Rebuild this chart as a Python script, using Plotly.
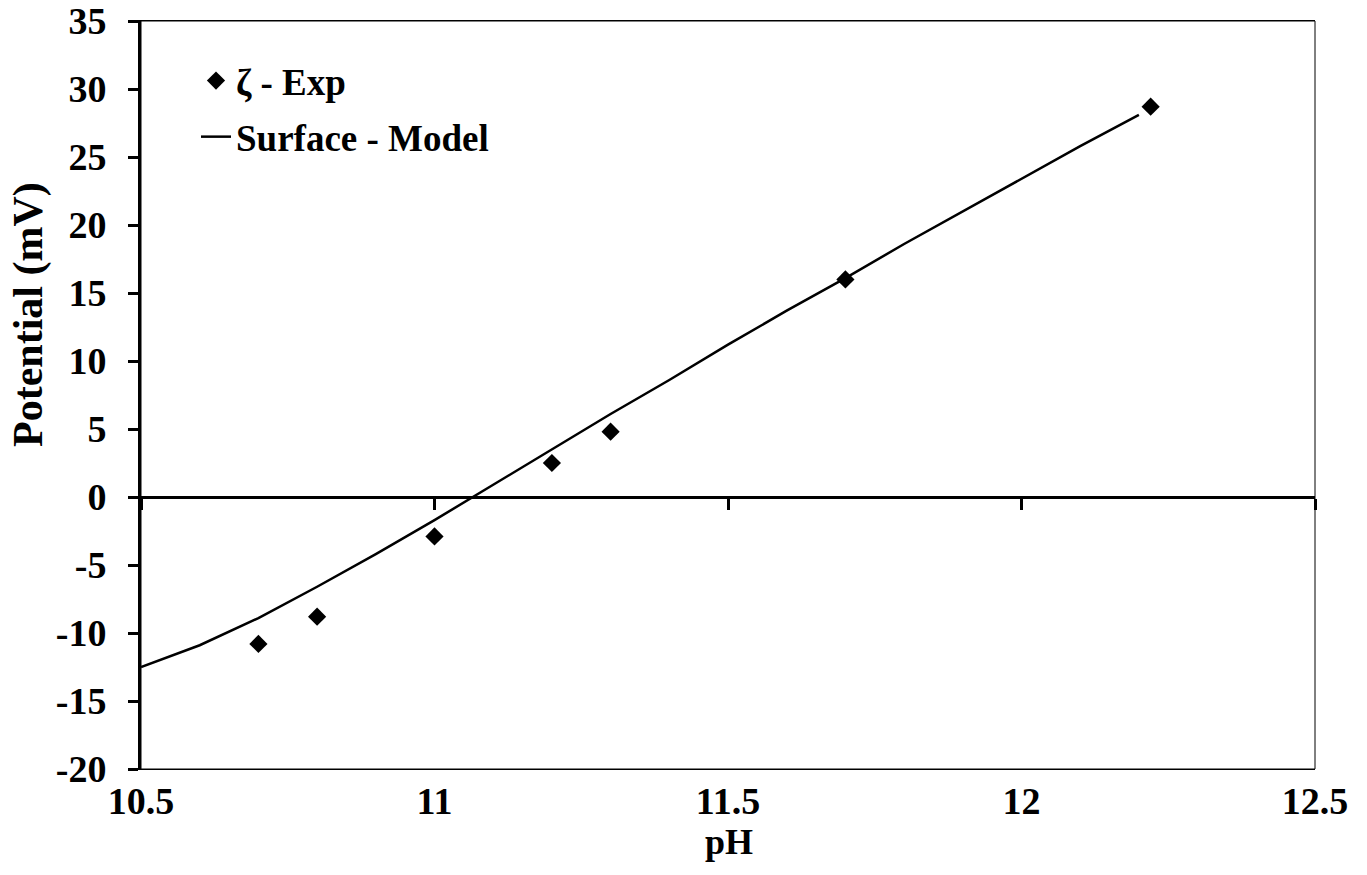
import plotly.graph_objects as go

# Experimental zeta potential
exp_ph = [10.7, 10.8, 11.0, 11.2, 11.3, 11.7, 12.22]
exp_zeta = [-10.8, -8.8, -2.9, 2.5, 4.8, 16.0, 28.7]

# Model surface potential
model_ph = [10.5, 10.6, 10.7, 10.8, 10.9, 11.0, 11.1, 11.2, 11.3, 11.4,
            11.5, 11.6, 11.7, 11.8, 11.9, 12.0, 12.1, 12.2]
model_pot = [-12.5, -10.9, -8.9, -6.6, -4.2, -1.7, 0.9, 3.5, 6.1, 8.6,
             11.2, 13.7, 16.1, 18.6, 21.0, 23.4, 25.8, 28.1]

x_ticks = [10.5, 11, 11.5, 12, 12.5]
x_ticktext = ["10.5", "11", "11.5", "12", "12.5"]
y_ticks = [-20, -15, -10, -5, 0, 5, 10, 15, 20, 25, 30, 35]
y_ticktext = ["-20", "-15", "-10", "-5", "0", "5", "10", "15", "20", "25", "30", "35"]

x_range = [10.5, 12.5]
y_range = [-20, 35]
FONT = "Liberation Serif, Times New Roman, serif"

fig = go.Figure()
fig.add_trace(go.Scatter(
    x=exp_ph, y=exp_zeta, mode="markers", name="ζ - Exp",
    marker=dict(symbol="diamond", size=14, color="black"),
    legendgroup="a",
))
fig.add_trace(go.Scatter(
    x=model_ph, y=model_pot, mode="lines", name="Surface - Model",
    line=dict(color="black", width=2.5), xaxis="x2",
    legendgroup="b",
))

fig.update_layout(
    width=1367, height=875,
    margin=dict(l=141, r=52, t=21, b=106),
    paper_bgcolor="white", plot_bgcolor="white",
    font=dict(family=FONT, color="black"),
    showlegend=True,
    legend=dict(
        x=(196 - 141) / 1174, y=(769 - 50) / 748, xanchor="left", yanchor="top",
        font=dict(family=FONT, size=37, color="black", weight="bold"),
        bgcolor="rgba(0,0,0,0)", tracegroupgap=5, traceorder="grouped",
        itemwidth=30,
    ),
    xaxis=dict(
        range=x_range, tickvals=x_ticks, ticktext=x_ticktext, ticks="",
        showgrid=False, automargin=False,
        zeroline=False, showline=True, mirror=True, linecolor="black",
        linewidth=1,
        tickfont=dict(family=FONT, size=38, color="black", weight="bold"),
        ticklabelstandoff=-2,
    ),
    xaxis2=dict(
        range=x_range, tickvals=x_ticks, overlaying="x", anchor="free",
        position=(0 - y_range[0]) / (y_range[1] - y_range[0]),
        showline=True, linecolor="black", linewidth=2.5, automargin=False,
        ticks="outside", ticklen=11, tickwidth=2.5, tickcolor="black",
        showticklabels=False, showgrid=False, zeroline=False,
    ),
    yaxis=dict(
        range=y_range, tickvals=y_ticks, ticktext=y_ticktext,
        showgrid=False, zeroline=False, automargin=False,
        showline=True, linecolor="black", linewidth=3,
        ticks="outside", ticklen=10, tickwidth=2.5, tickcolor="black",
        tickfont=dict(family=FONT, size=38, color="black", weight="bold"),
        ticklabelstandoff=14,
    ),
    shapes=[dict(type="rect", xref="x domain", yref="y domain",
                 x0=0, x1=1, y0=0, y1=1, line=dict(color="black", width=1),
                 layer="below")],
    annotations=[
        dict(text="pH", xref="paper", yref="paper",
             x=(729 - 141) / 1174, y=(769 - 842) / 748,
             xanchor="center", yanchor="middle", showarrow=False,
             font=dict(family=FONT, size=36, color="black", weight="bold")),
        dict(text="Potential (mV)", xref="paper", yref="paper",
             x=(28 - 141) / 1174, y=(769 - 315) / 748, textangle=-90,
             xanchor="center", yanchor="middle", showarrow=False,
             font=dict(family=FONT, size=42, color="black", weight="bold")),
    ],
)

fig.write_html("out.html")
